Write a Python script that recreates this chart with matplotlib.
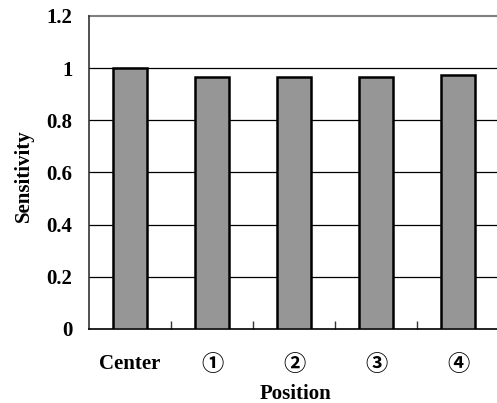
import matplotlib
matplotlib.use("Agg")
import matplotlib.pyplot as plt
import numpy as np

# === Data ===
positions = ["Center", "\u2460", "\u2461", "\u2462", "\u2463"]
sensitivity = [1.0, 0.968, 0.968, 0.968, 0.972]
y_ticks = [0, 0.2, 0.4, 0.6, 0.8, 1.0, 1.2]
y_tick_labels = ["0", "0.2", "0.4", "0.6", "0.8", "1", "1.2"]

plt.rcParams["font.family"] = ["Liberation Serif", "Noto Sans CJK JP", "DejaVu Sans"]

W, H = 497, 403
fig = plt.figure(figsize=(W / 100, H / 100), dpi=100)
ax = fig.add_axes([89 / W, (H - 329) / H, 410 / W, (329 - 16) / H])

x = np.arange(len(positions))
ax.bar(x, sensitivity, width=0.41, color="#969696", edgecolor="black",
       linewidth=1.8, zorder=3)

ax.set_xlim(-0.5, len(positions) - 0.5)
ax.set_ylim(0, 1.2)

# gridlines
for y in y_ticks[1:-1]:
    ax.axhline(y, color="black", linewidth=0.9, zorder=1)
ax.axhline(1.2, color="#808080", linewidth=1.5, zorder=1, clip_on=False)

ax.set_yticks(y_ticks)
ax.set_yticklabels(y_tick_labels, fontsize=15, fontweight="bold")
ax.tick_params(axis="y", length=0, pad=12)

ax.set_xticks(x)
ax.set_xticklabels([])
ax.tick_params(axis="x", which="major", length=0)
ax.set_xticks(np.arange(0.5, len(positions) - 0.5, 1), minor=True)
ax.tick_params(axis="x", which="minor", direction="in", length=6, width=1, color="#333333")

for i, lab in enumerate(positions):
    if lab == "Center":
        ax.text(i, -0.135, lab, ha="center", va="center", fontsize=15,
                fontweight="bold", clip_on=False)
    else:
        ax.text(i, -0.135, lab, ha="center", va="center", fontsize=16,
                fontweight="bold", family=["Noto Sans CJK JP", "DejaVu Sans"],
                clip_on=False)

ax.spines["right"].set_visible(False)
ax.spines["top"].set_visible(False)
ax.spines["left"].set_color("#333333")
ax.spines["left"].set_linewidth(1.2)
ax.spines["bottom"].set_color("black")
ax.spines["bottom"].set_linewidth(1.2)

fig.text(295 / W, 1 - 394 / H, "Position", ha="center", va="center",
         fontsize=15, fontweight="bold")
fig.text(24 / W, 1 - 176 / H, "Sensitivity", ha="center", va="center",
         rotation=90, fontsize=15, fontweight="bold")

fig.savefig("out.png", dpi=100)
